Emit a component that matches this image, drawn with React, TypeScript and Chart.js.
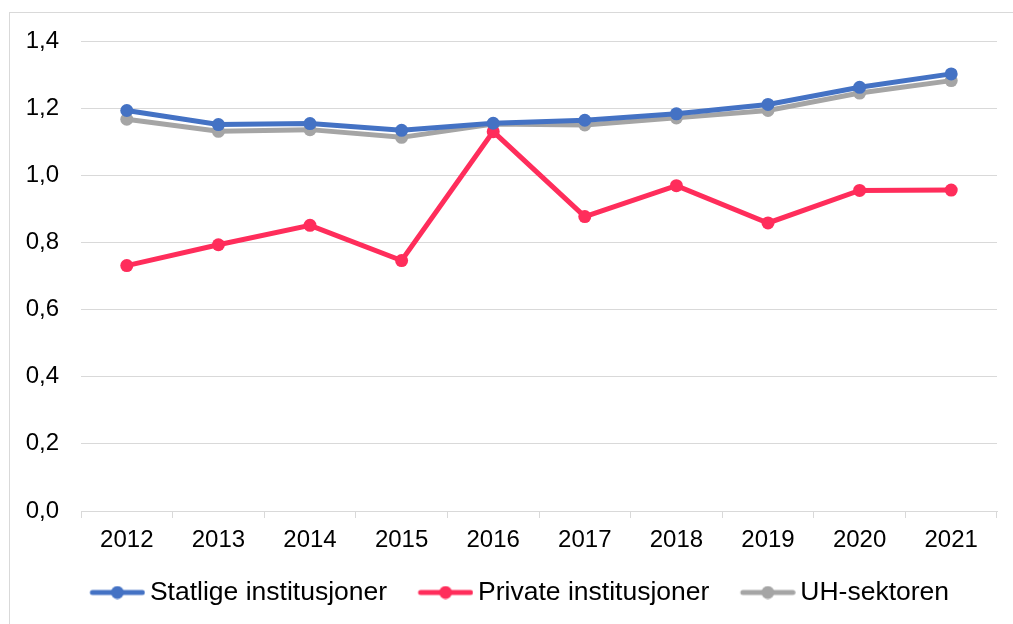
import React, { useEffect, useRef } from "react";
import { Chart, registerables } from "chart.js";

Chart.register(...registerables);

const years = ["2012", "2013", "2014", "2015", "2016", "2017", "2018", "2019", "2020", "2021"];
const statlige = [1.193, 1.151, 1.154, 1.134, 1.155, 1.164, 1.183, 1.211, 1.262, 1.302];
const private_ = [0.731, 0.793, 0.851, 0.746, 1.13, 0.877, 0.969, 0.858, 0.955, 0.956];
const uhSektoren = [1.167, 1.131, 1.136, 1.113, 1.153, 1.15, 1.171, 1.193, 1.245, 1.282];
const seriesNames = ["Statlige institusjoner", "Private institusjoner", "UH-sektoren"];
const seriesColors = ["#4472C4", "#FF2D5B", "#A5A5A5"];
const yTickLabels = ["0,0", "0,2", "0,4", "0,6", "0,8", "1,0", "1,2", "1,4"];

const FONT = "'Liberation Sans', Arial, sans-serif";

function legendImage(color: string): HTMLCanvasElement {
  const c = document.createElement("canvas");
  c.width = 81;
  c.height = 14;
  const ctx = c.getContext("2d")!;
  ctx.strokeStyle = color;
  ctx.lineWidth = 5;
  ctx.lineCap = "round";
  ctx.beginPath();
  ctx.moveTo(28.1, 7);
  ctx.lineTo(78.1, 7);
  ctx.stroke();
  ctx.fillStyle = color;
  ctx.beginPath();
  ctx.arc(53.1, 7, 6.5, 0, Math.PI * 2);
  ctx.fill();
  return c;
}

export default function App() {
  const ref = useRef<HTMLCanvasElement>(null);
  useEffect(() => {
    const images = seriesColors.map(legendImage);
    const values = [statlige, private_, uhSektoren];
    const chart = new Chart(ref.current!, {
      type: "line",
      data: {
        labels: years,
        datasets: values.map((v, i) => ({
          label: seriesNames[i],
          data: v,
          borderColor: seriesColors[i],
          backgroundColor: seriesColors[i],
          borderWidth: 5,
          pointRadius: 6.5,
          pointBorderWidth: 0,
          pointBackgroundColor: seriesColors[i],
          tension: 0,
        })),
      },
      options: {
        responsive: false,
        animation: false,
        layout: { padding: { left: 25, right: 16, top: 41, bottom: 8.25 } },
        plugins: {
          tooltip: { enabled: false },
          legend: {
            position: "bottom",
            labels: {
              usePointStyle: true,
              pointStyleWidth: 63.75,
              boxHeight: 14,
              padding: 14,
              color: "#000",
              font: { family: FONT, size: 26.5 },
              generateLabels: (ch: any) =>
                Chart.defaults.plugins.legend.labels
                  .generateLabels(ch)
                  .map((l: any, i: number) => ({ ...l, pointStyle: images[i] })),
            },
          },
        },
        scales: {
          x: {
            offset: true,
            afterFit: (s: any) => {
              s.height = 54.25;
            },
            grid: {
              offset: true,
              drawOnChartArea: false,
              drawTicks: true,
              tickLength: 7,
              color: "#D9D9D9",
            },
            border: { display: true, color: "#D9D9D9", width: 1 },
            ticks: {
              padding: 8,
              color: "#000",
              maxRotation: 0,
              font: { family: FONT, size: 24 },
            },
          },
          y: {
            min: 0,
            max: 1.4,
            afterFit: (s: any) => {
              s.width = 56;
            },
            grid: { color: "#D9D9D9", drawTicks: false, lineWidth: 1 },
            border: { display: false },
            ticks: {
              stepSize: 0.2,
              padding: 22,
              color: "#000",
              font: { family: FONT, size: 24 },
              callback: (_v: any, i: number) => yTickLabels[i],
            },
          },
        },
      },
    });
    return () => chart.destroy();
  }, []);
  return (
    <div
      style={{
        position: "fixed",
        left: 0,
        top: 0,
        width: 1013,
        height: 624,
        overflow: "hidden",
        background: "#fff",
      }}
    >
      <div
        style={{
          position: "absolute",
          left: 9,
          top: 12,
          width: 1100,
          height: 700,
          border: "1px solid #D9D9D9",
        }}
      />
      <canvas
        ref={ref}
        width={1013}
        height={624}
        style={{ position: "absolute", left: 0, top: 0, width: 1013, height: 624 }}
      />
    </div>
  );
}
